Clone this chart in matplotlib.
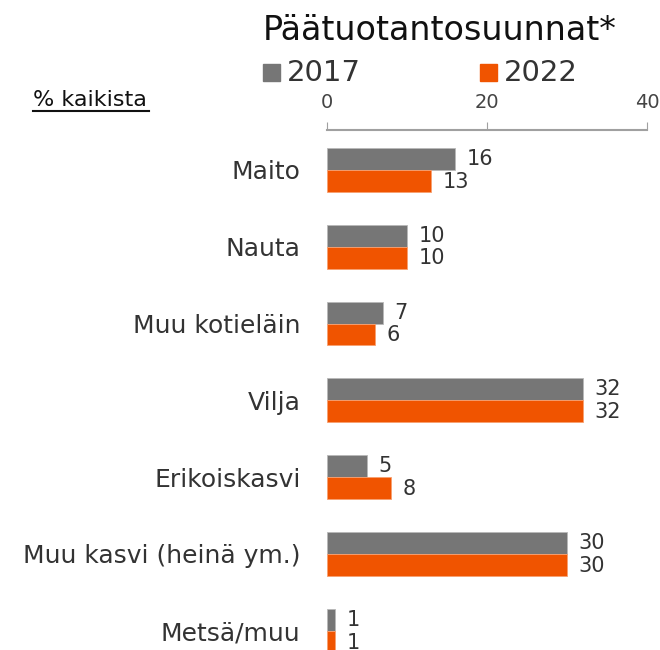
import matplotlib.pyplot as plt
import numpy as np

kategoriat = ['Maito', 'Nauta', 'Muu kotieläin', 'Vilja', 'Erikoiskasvi',
              'Muu kasvi (heinä ym.)', 'Metsä/muu']
arvot_2017 = [16, 10, 7, 32, 5, 30, 1]
arvot_2022 = [13, 10, 6, 32, 8, 30, 1]
vuodet = ['2017', '2022']

harmaa = '#767676'
oranssi = '#F05400'

fig = plt.figure(figsize=(6.6, 6.5), dpi=100)
ax = fig.add_axes([327 / 660, 0.0, 320 / 660, 520 / 650])

y = np.arange(len(kategoriat))
h = 0.285
ax.barh(y - h / 2, arvot_2017, height=h, color=harmaa, edgecolor='#b8b8b8', linewidth=0.6)
ax.barh(y + h / 2, arvot_2022, height=h, color=oranssi, edgecolor='#f8a070', linewidth=0.6)

for i in range(len(kategoriat)):
    ax.text(arvot_2017[i] + 1.4, y[i] - h / 2, str(arvot_2017[i]), va='center', ha='left',
            fontsize=15, color='#333333')
    ax.text(arvot_2022[i] + 1.4, y[i] + h / 2 + 0.01, str(arvot_2022[i]), va='center', ha='left',
            fontsize=15, color='#333333')

ax.set_xlim(0, 40)
ax.set_ylim(6.25, -0.52)
ax.set_yticks(y)
ax.set_yticklabels(kategoriat, fontsize=18, color='#333333')
ax.tick_params(axis='y', length=0, pad=19)

ax.xaxis.tick_top()
ax.set_xticks([0, 20, 40])
ax.tick_params(axis='x', labelsize=14, colors='#a0a0a0', labelcolor='#444444', length=6, pad=7)
for s in ['bottom', 'left', 'right']:
    ax.spines[s].set_visible(False)
ax.spines['top'].set_color('#a0a0a0')
ax.spines['top'].set_linewidth(1.5)

fig.text(440 / 660, 1 - 30 / 650, 'Päätuotantosuunnat*', ha='center', va='center', fontsize=24, color='#111111')

# legenda
fig.patches.append(plt.Rectangle((263 / 660, 1 - 81 / 650), 17 / 660, 17 / 650,
                                 transform=fig.transFigure, color=harmaa))
fig.text(287 / 660, 1 - 73 / 650, vuodet[0], ha='left', va='center', fontsize=21, color='#333333')
fig.patches.append(plt.Rectangle((480 / 660, 1 - 81 / 650), 17 / 660, 17 / 650,
                                 transform=fig.transFigure, color=oranssi))
fig.text(504 / 660, 1 - 73 / 650, vuodet[1], ha='left', va='center', fontsize=21, color='#333333')

fig.text(33 / 660, 1 - 100 / 650, '% kaikista', ha='left', va='center', fontsize=16, color='#111111')
fig.add_artist(plt.Line2D([33 / 660, 149 / 660], [1 - 111 / 650, 1 - 111 / 650], color='#111111', lw=1.5))

fig.savefig('out.png', dpi=100)
